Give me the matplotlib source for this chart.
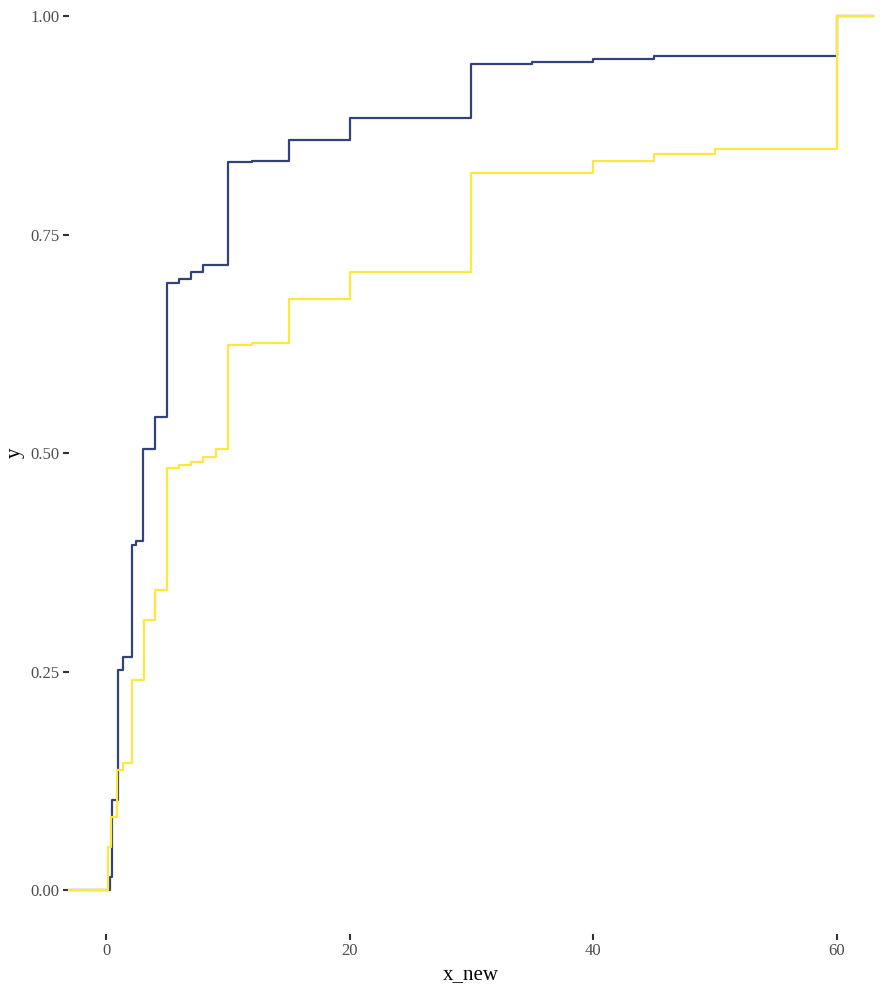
import matplotlib
matplotlib.use("Agg")
import matplotlib.pyplot as plt
import numpy as np

# ECDF jump positions and levels reached after each jump
x_blue = [0.3, 0.5, 1.0, 1.4, 2.1, 2.5, 3.0, 4.0, 5.0, 6.0, 7.0, 8.0,
          10.0, 12.0, 15.0, 20.0, 30.0, 35.0, 40.0, 45.0, 60.0]
y_blue = [0.015, 0.103, 0.252, 0.267, 0.395, 0.400, 0.505, 0.541, 0.695,
          0.700, 0.708, 0.716, 0.833, 0.835, 0.859, 0.884, 0.946, 0.948,
          0.951, 0.9545, 1.0]

x_yellow = [0.15, 0.4, 0.9, 1.4, 2.1, 3.1, 4.0, 5.0, 6.0, 7.0, 8.0, 9.0,
            10.0, 12.0, 15.0, 20.0, 30.0, 40.0, 45.0, 50.0, 60.0]
y_yellow = [0.049, 0.084, 0.137, 0.145, 0.240, 0.309, 0.343, 0.483, 0.487,
            0.490, 0.496, 0.505, 0.624, 0.626, 0.676, 0.708, 0.821, 0.835,
            0.843, 0.848, 1.0]

x_ticks = [0, 20, 40, 60]
y_ticks = [0.00, 0.25, 0.50, 0.75, 1.00]

plt.rcParams['font.family'] = ['Liberation Serif', 'DejaVu Serif']

fig = plt.figure(figsize=(8.84, 9.91), dpi=100)
ax = fig.add_axes([0.0786, 0.0578, 0.909, 0.9697])
ax.set_xlim(-3, 63)
ax.set_ylim(-0.05, 1.05)

lo, hi = ax.get_xlim()


def ecdf_line(xs, ys, color):
    xx = np.concatenate([[lo], xs, [hi]])
    yy = np.concatenate([[0], ys, [ys[-1]]])
    ax.step(xx, yy, where='post', color=color, lw=1.6, clip_on=False)


ecdf_line(x_blue, y_blue, '#34427a')
ecdf_line(x_yellow, y_yellow, '#fde93c')

for s in ax.spines.values():
    s.set_visible(False)

ax.set_xticks(x_ticks)
ax.set_xticklabels([str(v) for v in x_ticks])
ax.set_yticks(y_ticks)
ax.set_yticklabels([f"{v:.2f}" for v in y_ticks])
ax.tick_params(length=4, width=1.5, color='#333333', labelcolor='#4d4d4d',
               labelsize=12, pad=3)

ax.set_xlabel('x_new', fontsize=15, labelpad=4)
ax.set_ylabel('y', fontsize=15, labelpad=4)

fig.savefig('out.png', dpi=100)
